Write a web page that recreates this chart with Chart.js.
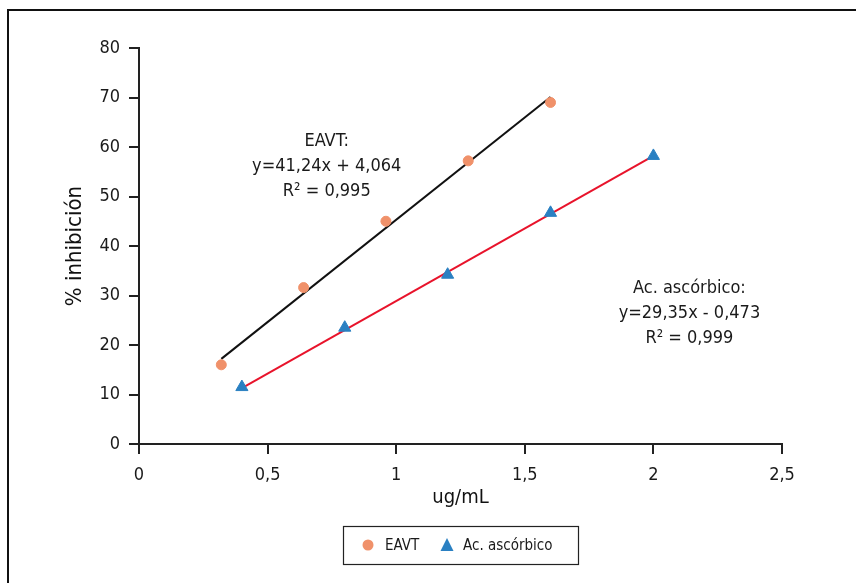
<!DOCTYPE html>
<html>
<head>
<meta charset="utf-8">
<script src="https://cdn.jsdelivr.net/npm/chart.js@4/dist/chart.umd.min.js"></script>
<style>
  html, body { margin: 0; padding: 0; background: #fff; }
  #wrap { width: 856px; height: 583px; position: relative; }
</style>
</head>
<body>
<div id="wrap"><canvas id="grafico"></canvas></div>
<script>
// Datos
const eavtX = [0.32, 0.64, 0.96, 1.28, 1.6];
const eavtY = [16.0, 31.6, 45.0, 57.2, 69.0];
const acidoX = [0.4, 0.8, 1.2, 1.6, 2.0];
const acidoY = [11.5, 23.5, 34.2, 46.7, 58.2];

// Líneas de tendencia (extremos)
const tendEavtX = [0.32, 1.6];
const tendEavtY = [17.2, 70.1];
const tendAcidoX = [0.4, 2.0];
const tendAcidoY = [11.3, 58.2];

const xTicks = [0, 0.5, 1, 1.5, 2, 2.5];
const yTicks = [0, 10, 20, 30, 40, 50, 60, 70, 80];

const textoEavt = ['EAVT:', 'y=41,24x + 4,064', 'R² = 0,995'];
const textoAcido = ['Ac. ascórbico:', 'y=29,35x - 0,473', 'R² = 0,999'];

const fuente = "'Liberation Sans Narrow', 'DejaVu Sans Condensed', sans-serif";
const naranja = '#F0916A';
const azul = '#2A80C2';

const puntos = (xs, ys) => xs.map((x, i) => ({ x: x, y: ys[i] }));

// Marco, anotaciones y leyenda
const extras = {
    id: 'extras',
    afterDraw(chart) {
        const c = chart.ctx;
        const sx = chart.scales.x, sy = chart.scales.y;
        c.save();
        c.strokeStyle = '#111';
        c.lineWidth = 2;
        c.strokeRect(8, 10, 900, 600);

        c.fillStyle = '#1a1a1a';
        c.font = '18px ' + fuente;
        c.textAlign = 'center';
        c.textBaseline = 'middle';
        textoEavt.forEach((t, i) => c.fillText(t, sx.getPixelForValue(0.73), sy.getPixelForValue(61.1) + i * 25));
        textoAcido.forEach((t, i) => c.fillText(t, sx.getPixelForValue(2.14), sy.getPixelForValue(31.5) + i * 25));

        // leyenda
        c.strokeStyle = '#222';
        c.lineWidth = 1.2;
        c.strokeRect(343.5, 526.5, 235, 38);
        c.font = '15px ' + fuente;
        c.textAlign = 'left';
        c.fillStyle = naranja;
        c.beginPath();
        c.arc(368, 545, 5.5, 0, Math.PI * 2);
        c.fill();
        c.fillStyle = azul;
        c.beginPath();
        c.moveTo(447, 538);
        c.lineTo(453.5, 551);
        c.lineTo(440.5, 551);
        c.closePath();
        c.fill();
        c.fillStyle = '#1a1a1a';
        c.fillText(chart.data.datasets[0].label, 385, 546);
        c.fillText(chart.data.datasets[1].label, 463, 546);
        c.restore();
    }
};

const ctx = document.getElementById('grafico').getContext('2d');
const grafico = new Chart(ctx, {
    type: 'scatter',
    data: {
        datasets: [{
            label: 'EAVT',
            data: puntos(eavtX, eavtY),
            backgroundColor: naranja,
            borderColor: naranja,
            pointStyle: 'circle',
            pointRadius: 5,
            order: 0
        }, {
            label: 'Ac. ascórbico',
            data: puntos(acidoX, acidoY),
            backgroundColor: azul,
            borderColor: azul,
            pointStyle: 'triangle',
            pointRadius: 7,
            order: 0
        }, {
            label: 'tendencia EAVT',
            type: 'line',
            data: puntos(tendEavtX, tendEavtY),
            borderColor: '#111',
            borderWidth: 2,
            pointRadius: 0,
            order: 1
        }, {
            label: 'tendencia Ac. ascórbico',
            type: 'line',
            data: puntos(tendAcidoX, tendAcidoY),
            borderColor: '#E8132B',
            borderWidth: 2,
            pointRadius: 0,
            order: 1
        }]
    },
    options: {
        responsive: true,
        maintainAspectRatio: false,
        animation: false,
        layout: { padding: { left: 0, top: 48, right: 74, bottom: 0 } },
        plugins: {
            legend: { display: false },
            tooltip: { enabled: false }
        },
        scales: {
            x: {
                type: 'linear',
                min: 0,
                max: 2.5,
                afterBuildTicks: s => { s.ticks = xTicks.map(v => ({ value: v })); },
                afterFit: s => { s.height = 139; },
                grid: { drawOnChartArea: false, drawTicks: true, tickLength: 10, color: '#222', lineWidth: 2 },
                border: { display: true, color: '#222', width: 2 },
                ticks: {
                    padding: 11,
                    color: '#1a1a1a',
                    font: { family: fuente, size: 18 },
                    callback: v => String(v).replace('.', ',')
                },
                title: {
                    display: true,
                    text: 'ug/mL',
                    color: '#111',
                    font: { family: fuente, size: 20 },
                    padding: { top: 0, bottom: 73 }
                }
            },
            y: {
                type: 'linear',
                min: 0,
                max: 80,
                afterBuildTicks: s => { s.ticks = yTicks.map(v => ({ value: v })); },
                afterFit: s => { s.width = 139; },
                grid: { drawOnChartArea: false, drawTicks: true, tickLength: 10, color: '#222', lineWidth: 2 },
                border: { display: true, color: '#222', width: 2 },
                ticks: {
                    padding: 9,
                    color: '#1a1a1a',
                    font: { family: fuente, size: 18 }
                },
                title: {
                    display: true,
                    text: '% inhibición',
                    color: '#111',
                    font: { family: fuente, size: 22 },
                    padding: { top: 62, bottom: 0 }
                }
            }
        }
    },
    plugins: [extras]
});
</script>
</body>
</html>
